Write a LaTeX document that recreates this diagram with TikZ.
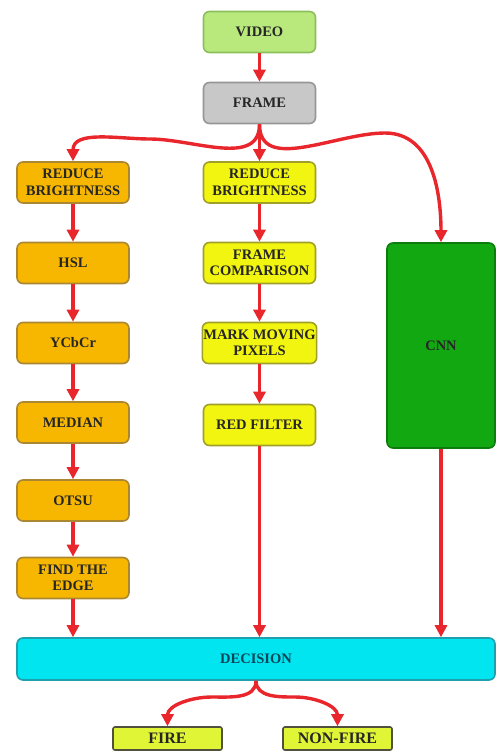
\documentclass[tikz,border=0pt]{standalone}
\usepackage{fontspec}
\setmainfont{Liberation Serif}
\usetikzlibrary{arrows.meta}
\definecolor{redline}{RGB}{232,38,43}
\definecolor{videofill}{RGB}{185,232,125}
\definecolor{videodraw}{RGB}{140,190,90}
\definecolor{framefill}{RGB}{200,200,200}
\definecolor{framedraw}{RGB}{150,150,150}
\definecolor{orangefill}{RGB}{247,183,0}
\definecolor{orangedraw}{RGB}{170,135,50}
\definecolor{yellowfill}{RGB}{242,245,15}
\definecolor{yellowdraw}{RGB}{160,160,40}
\definecolor{cnnfill}{RGB}{18,168,18}
\definecolor{cnndraw}{RGB}{12,125,12}
\definecolor{decfill}{RGB}{0,229,240}
\definecolor{decdraw}{RGB}{30,160,175}
\definecolor{dectext}{RGB}{10,70,90}
\definecolor{firefill}{RGB}{225,245,55}
\definecolor{firedraw}{RGB}{80,80,60}
\tikzset{
  stepnode/.style={rounded corners=6pt, line width=1.6pt, minimum width=112pt, minimum height=41pt,
    inner sep=1pt, align=center, font=\bfseries\fontsize{14.5}{16.5}\selectfont, text=black!85},
  videobox/.style={stepnode, fill=videofill, draw=videodraw},
  framebox/.style={stepnode, fill=framefill, draw=framedraw},
  orangebox/.style={stepnode, fill=orangefill, draw=orangedraw},
  yellowbox/.style={stepnode, fill=yellowfill, draw=yellowdraw},
  cnnbox/.style={stepnode, fill=cnnfill, draw=cnndraw, minimum width=108pt, minimum height=205pt},
  decbox/.style={stepnode, fill=decfill, draw=decdraw, minimum width=478pt, minimum height=42pt, text=dectext},
  firebox/.style={stepnode, rounded corners=2pt, fill=firefill, draw=firedraw, minimum width=109pt,
    minimum height=23pt, font=\bfseries\fontsize{16}{16}\selectfont},
  flow/.style={draw=redline, line width=3.4pt, -{Triangle[length=12pt,width=12pt]}}
}
\begin{document}
\begin{tikzpicture}[x=1pt,y=-1pt]
  \useasboundingbox (0,0) rectangle (496,753);
  \node[videobox] (video) at (259.5,32) {VIDEO};
  \node[framebox] (frame) at (259.5,103) {FRAME};
  \node[orangebox] (lbright) at (73,182.5) {REDUCE\\BRIGHTNESS};
  \node[orangebox] (hsl) at (73,263) {HSL};
  \node[orangebox] (ycbcr) at (73,343) {YCbCr};
  \node[orangebox] (median) at (73,422.5) {MEDIAN};
  \node[orangebox] (otsu) at (73,500.5) {OTSU};
  \node[orangebox] (edge) at (73,578) {FIND THE\\EDGE};
  \node[yellowbox] (mbright) at (259.5,182.5) {REDUCE\\BRIGHTNESS};
  \node[yellowbox] (compare) at (259.5,263) {FRAME\\COMPARISON};
  \node[yellowbox] (moving) at (259.5,343) {MARK MOVING\\PIXELS};
  \node[yellowbox] (redfilter) at (259.5,425) {RED FILTER};
  \node[cnnbox] (cnn) at (441,345.5) {CNN};
  \node[decbox] (decision) at (256,659) {DECISION};
  \node[firebox] (fire) at (167.5,738.5) {FIRE};
  \node[firebox] (nonfire) at (337.5,738.5) {NON-FIRE};
  \coordinate (lbend) at (150,139);
  \coordinate (rbend) at (385,133);
  \coordinate (fbend) at (212,697);
  \coordinate (nbend) at (295,697);
  \draw[flow] (video) -- (frame);
  \draw[flow] (frame) -- (mbright);
  \draw[flow] (frame.south) to[out=-90,in=0] (lbend) to[out=180,in=90] (lbright.north);
  \draw[flow] (frame.south) to[out=-90,in=180] (rbend) to[out=0,in=90] (cnn.north);
  \draw[flow] (lbright) -- (hsl);
  \draw[flow] (hsl) -- (ycbcr);
  \draw[flow] (ycbcr) -- (median);
  \draw[flow] (median) -- (otsu);
  \draw[flow] (otsu) -- (edge);
  \draw[flow] (mbright) -- (compare);
  \draw[flow] (compare) -- (moving);
  \draw[flow] (moving) -- (redfilter);
  \draw[flow] (edge.south) -- (edge.south |- decision.north);
  \draw[flow] (redfilter.south) -- (redfilter.south |- decision.north);
  \draw[flow] (cnn.south) -- (cnn.south |- decision.north);
  \draw[flow] (decision.south) to[out=-90,in=0] (fbend) to[out=180,in=90] (fire.north);
  \draw[flow] (decision.south) to[out=-90,in=180] (nbend) to[out=0,in=90] (nonfire.north);
\end{tikzpicture}
\end{document}
